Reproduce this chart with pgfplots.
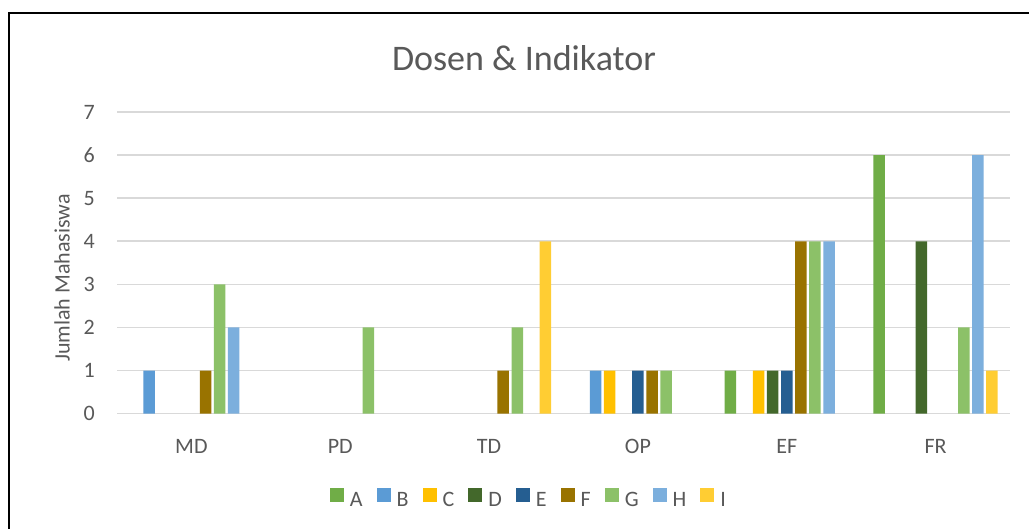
\documentclass[border=0pt]{standalone}
\usepackage{pgfplots}
\pgfplotsset{compat=1.18}
\usepackage{fontspec}
\setmainfont{Carlito}
\definecolor{txt}{HTML}{595959}
\definecolor{gridc}{HTML}{D9D9D9}
\definecolor{cA}{HTML}{70AD47}
\definecolor{cB}{HTML}{5B9BD5}
\definecolor{cC}{HTML}{FFC000}
\definecolor{cD}{HTML}{43682B}
\definecolor{cE}{HTML}{255E91}
\definecolor{cF}{HTML}{997300}
\definecolor{cG}{HTML}{8CC168}
\definecolor{cH}{HTML}{7CAFDD}
\definecolor{cI}{HTML}{FFCD33}
\begin{document}
\begin{tikzpicture}[x=1pt,y=1pt]
\useasboundingbox (0,0) rectangle (1029,529);
\fill[white] (0,0) rectangle (1029,529);
\begin{axis}[
  at={(117pt,115.3pt)}, anchor=south west,
  scale only axis, width=893pt, height=301.7pt,
  xmin=-0.5, xmax=5.5, ymin=0, ymax=7,
  xtick={0,...,5}, xticklabels={MD,PD,TD,OP,EF,FR},
  ytick={0,...,7},
  ymajorgrids, major grid style={draw=gridc, line width=1.6pt},
  axis line style={draw=none},
  major tick length=0pt,
  tick label style={font=\fontsize{22}{26}\selectfont, text=txt},
  /pgf/number format/assume math mode=true,
  xticklabel style={anchor=base, yshift=-40pt},
  yticklabel style={anchor=east, inner sep=0pt, xshift=-22pt},
  ybar=2.6pt, bar width=11.5pt,
  legend columns=9,
  legend style={at={(axis description cs:0.4602,-0.2794)}, anchor=center, draw=none, fill=none,
    font=\fontsize{22}{26}\selectfont, text=txt,
    /tikz/every even column/.append style={column sep=14pt},
    nodes={inner sep=0pt}},
  legend image code/.code={\fill[#1] (0pt,-2pt) rectangle (14pt,12pt); \path (20pt,0pt);},
]
\addplot[fill=cA, draw=none] coordinates {(4,1) (5,6)}; \addlegendentry{A}
\addplot[fill=cB, draw=none] coordinates {(0,1) (3,1)}; \addlegendentry{B}
\addplot[fill=cC, draw=none] coordinates {(3,1) (4,1)}; \addlegendentry{C}
\addplot[fill=cD, draw=none] coordinates {(4,1) (5,4)}; \addlegendentry{D}
\addplot[fill=cE, draw=none] coordinates {(3,1) (4,1)}; \addlegendentry{E}
\addplot[fill=cF, draw=none] coordinates {(0,1) (2,1) (3,1) (4,4)}; \addlegendentry{F}
\addplot[fill=cG, draw=none] coordinates {(0,3) (1,2) (2,2) (3,1) (4,4) (5,2)}; \addlegendentry{G}
\addplot[fill=cH, draw=none] coordinates {(0,2) (4,4) (5,6)}; \addlegendentry{H}
\addplot[fill=cI, draw=none] coordinates {(2,4) (5,1)}; \addlegendentry{I}
\end{axis}
\node[anchor=base, font=\fontsize{36}{40}\selectfont, text=txt] at (524,458) {Dosen \& Indikator};
\node[rotate=90, font=\fontsize{22}{26}\selectfont, text=txt] at (62,251) {Jumlah Mahasiswa};
\draw[black, line width=2.2pt] (9,-5) -- (9,515.7) -- (1035,515.7);
\end{tikzpicture}
\end{document}
